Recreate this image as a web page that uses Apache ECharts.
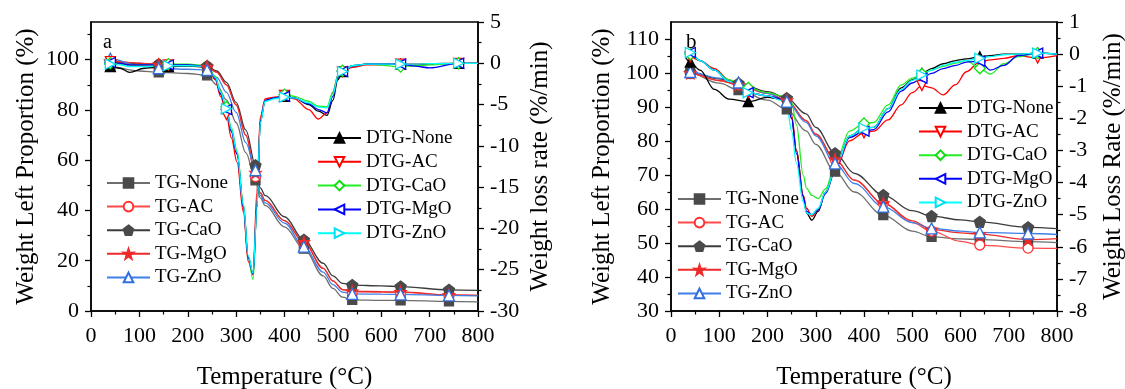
<!DOCTYPE html>
<html>
<head>
<meta charset="utf-8">
<script src="https://cdn.jsdelivr.net/npm/echarts@6/dist/echarts.min.js"></script>
<style>html,body{margin:0;padding:0;background:#fff;}#c{width:1125px;height:389px;}</style>
</head>
<body>
<div id="c"></div>
<script>
// ---------- data: chart a ----------
const tgXa = [30,40,100,140,200,240,260,280,300,320,340,350,360,400,440,480,500,520,540,600,640,740,800];
const tgNoneA = [97,97.2,95.5,95,94.5,93.8,90,84,75,63,52,45,42,33.5,24.8,14,9,5.5,4.4,4.2,4.2,3.8,3.6];
const tgAcA   = [99.5,99.5,98.5,98,97.5,97.2,95,90,82,70,53.5,47,44,36,27.2,17,12,8.5,7.7,7.5,7.4,6.3,6.2];
const tgCaoA  = [99,99.2,98.5,98.2,97.8,97.5,95.5,91,83,72,58,49,46,37.5,28.3,19,14,11,10.3,10,9.7,8.4,8.2];
const tgMgoA  = [99.3,99.5,98.6,98,97.6,97.2,95,90,82,70,55,47,44,36,27.5,17,12,8.5,7.8,7.7,7.6,6.4,6.2];
const tgZnoA  = [100,100.4,97.5,96.6,96.2,95.9,93,87,79,67,56,46,43,35,25.6,15.5,10.5,7.5,6.8,6.7,6.6,6.2,6.0];

const dtgXa = [30,40,60,80,110,160,200,240,257,268,280,290,302,315,325,335,343,350,360,380,400,420,450,470,488,500,510,520,540,570,640,670,700,760,800];
const dtgNoneA = [-0.3,-0.4,-0.6,-1.1,-0.6,-0.4,-0.35,-0.45,-1.8,-3.7,-5.5,-8.2,-11,-17.4,-23.5,-25.5,-17.4,-7,-4.5,-4.2,-4.0,-4.2,-5.0,-5.8,-6.3,-4.5,-2.0,-1.0,-0.4,-0.1,-0.1,-0.15,-0.1,0,0];
const dtgAcA   = [0.2,0.2,0.0,-0.2,-0.2,-0.2,-0.2,-0.35,-2.0,-4.0,-6.2,-9.0,-12,-18,-24,-25.6,-15.5,-6.5,-4.3,-4.1,-3.9,-4.3,-5.6,-6.75,-6.0,-3.5,-1.6,-1.0,-0.5,-0.2,-0.1,-0.1,-0.05,0,0];
const dtgCaoA  = [0,0,-0.1,-0.2,-0.2,-0.1,-0.1,-0.3,-1.6,-3.4,-5.3,-7.8,-10.6,-17,-23.5,-26.2,-17.5,-7.2,-4.6,-4.2,-3.8,-4.0,-4.6,-5.2,-5.25,-3.5,-1.6,-0.9,-0.3,-0.1,-0.4,-0.3,-0.2,0,0];
const dtgMgoA  = [0,0.1,0,-0.2,-0.2,-0.2,-0.2,-0.35,-1.8,-3.7,-5.6,-8.2,-11,-17.4,-23.5,-25.5,-17.4,-7,-4.5,-4.2,-4.0,-4.2,-4.9,-5.6,-6.0,-4.0,-1.8,-1.0,-0.3,-0.1,-0.1,-0.35,-0.55,0,0];
const dtgZnoA  = [-0.2,-0.1,-0.2,-0.4,-0.4,-0.3,-0.3,-0.4,-1.7,-3.5,-5.5,-8,-10.8,-17.2,-23.3,-25.4,-17.6,-7.2,-4.6,-4.3,-4.1,-4.2,-4.8,-5.3,-5.4,-3.8,-1.7,-1.0,-0.3,-0.1,-0.1,-0.1,-0.05,0,0];

// ---------- data: chart b ----------
const tgXb = [30,40,100,140,200,240,280,300,340,380,440,500,540,600,640,740,800];
const tgNoneB = [100.5,100,97,95,92,89.3,83,79,71,65,58.2,53.5,51.8,51.2,51,50.4,50.1];
const tgAcB   = [100,99.8,97.8,96.5,94,92,86,82,74.6,68.5,61.7,56,53.5,50.5,49.4,48.5,48.4];
const tgCaoB  = [100.5,100.2,98.3,97,94.5,92.6,88,84,76.4,70.5,64.1,59.5,57.9,56.8,56.2,54.6,54.2];
const tgMgoB  = [100,100,97.8,96.5,94,92,86,82,74.6,68.5,61.7,56.5,54,53,52.6,51,51.3];
const tgZnoB  = [100.5,100.3,98.5,97.2,94,91.6,85.5,81.5,73.4,67.5,60.7,56,54.3,53.5,53.1,52.8,52.5];

const dtgXb = [30,40,60,90,120,160,200,230,240,250,260,274,281,292,305,320,343,370,400,420,450,477,500,520,540,564,590,612,640,662,690,720,760,800];
const dtgNoneB = [-0.1,-0.25,-0.5,-1.1,-1.4,-1.48,-1.35,-1.4,-1.5,-2.0,-3.0,-4.4,-4.95,-5.17,-4.9,-4.3,-3.45,-2.55,-2.3,-2.28,-1.7,-1.05,-0.8,-0.6,-0.45,-0.3,-0.2,-0.15,-0.08,-0.05,0,0,0.03,0];
const dtgAcB   = [-0.05,-0.08,-0.2,-0.45,-0.8,-1.2,-1.3,-1.4,-1.45,-1.9,-3.0,-4.4,-4.8,-5.05,-4.85,-4.3,-3.5,-2.7,-2.45,-2.4,-2.05,-1.58,-1.2,-0.98,-1.05,-1.27,-0.95,-0.55,-0.24,-0.18,-0.13,-0.05,-0.12,-0.05];
const dtgCaoB  = [0,0,-0.2,-0.5,-0.8,-1.05,-1.2,-1.3,-1.35,-1.5,-2.2,-3.77,-4.18,-4.4,-4.5,-4.2,-3.3,-2.4,-2.16,-2.13,-1.58,-0.96,-0.75,-0.62,-0.5,-0.38,-0.28,-0.2,-0.44,-0.62,-0.3,-0.08,0.03,0];
const dtgMgoB  = [0.05,0.05,-0.2,-0.5,-0.85,-1.2,-1.3,-1.4,-1.45,-2.0,-3.1,-4.45,-4.9,-5.0,-4.85,-4.35,-3.5,-2.6,-2.4,-2.35,-1.8,-1.15,-0.9,-0.75,-0.6,-0.45,-0.35,-0.25,-0.22,-0.5,-0.35,-0.05,0.03,0];
const dtgZnoB  = [0.03,0.05,-0.2,-0.5,-0.85,-1.2,-1.3,-1.45,-1.6,-2.4,-3.4,-4.6,-4.95,-5.0,-4.8,-4.3,-3.45,-2.55,-2.3,-2.28,-1.7,-1.1,-0.82,-0.65,-0.5,-0.35,-0.25,-0.2,-0.13,-0.08,-0.02,0,0.03,0];

const tgMarkX = [40,140,240,340,440,540,640,740];
const dtgMarkX = [40,160,280,400,520,640,760];
const tgNames = ['TG-None','TG-AC','TG-CaO','TG-MgO','TG-ZnO'];
const dtgNames = ['DTG-None','DTG-AC','DTG-CaO','DTG-MgO','DTG-ZnO'];
const xTitle = 'Temperature (°C)';

// ---------- styles ----------
const FONT = '"Liberation Serif","Times New Roman",serif';
const SYM = {
  pentagon: 'path://M50,0 L97.6,34.5 L79.4,90.5 L20.6,90.5 L2.4,34.5 Z',
  star: 'path://M50,0 L61.8,35.4 L97.6,34.5 L69.1,57.3 L79.4,90.5 L50,70 L20.6,90.5 L30.9,57.3 L2.4,34.5 L38.2,35.4 Z',
  down: 'path://M0,0 L100,0 L50,86.6 Z',
  left: 'path://M0,50 L86.6,0 L86.6,100 Z',
  right: 'path://M0,0 L86.6,50 L0,100 Z'
};
const tgStyle = [
  {line:'#6e6e6e', fill:'#4a4a4a', border:'#4a4a4a', symbol:'rect', size:9},
  {line:'#ff4a4a', fill:'#ffffff', border:'#ff3030', symbol:'circle', size:10},
  {line:'#3c3c3c', fill:'#4a4a4a', border:'#4a4a4a', symbol:SYM.pentagon, size:11},
  {line:'#ee2a2a', fill:'#ee2a2a', border:'#ee2a2a', symbol:SYM.star, size:11},
  {line:'#3f7fe8', fill:'#ffffff', border:'#2f6fe0', symbol:'triangle', size:11}
];
const dtgStyle = [
  {line:'#000000', fill:'#000000', border:'#000000', symbol:'triangle', size:10},
  {line:'#ff0000', fill:'#ffffff', border:'#ff0000', symbol:SYM.down, size:10},
  {line:'#22ee22', fill:'#ffffff', border:'#11dd11', symbol:'diamond', size:11},
  {line:'#0000ff', fill:'#ffffff', border:'#0000ff', symbol:SYM.left, size:10},
  {line:'#00ffff', fill:'#ffffff', border:'#00e0f0', symbol:SYM.right, size:10}
];

function mk(xs, ys, marks) {
  return xs.map((x, i) => marks.indexOf(x) >= 0 ? {value:[x, ys[i]]} : {value:[x, ys[i]], symbol:'none'});
}
function series(name, st, xs, ys, marks, xi, yi) {
  return {
    name, type:'line', xAxisIndex:xi, yAxisIndex:yi,
    data: mk(xs, ys, marks), smooth:0.35, smoothMonotone:'x',
    showSymbol:true, showAllSymbol:true, symbol:st.symbol, symbolSize:st.size,
    lineStyle:{color:st.line, width:1.3},
    itemStyle:{color:st.fill, borderColor:st.border, borderWidth:1.3},
    emphasis:{disabled:true}, animation:false
  };
}
const allSeries = [];
const tgA = [tgNoneA,tgAcA,tgCaoA,tgMgoA,tgZnoA];
const dtgA = [dtgNoneA,dtgAcA,dtgCaoA,dtgMgoA,dtgZnoA];
const tgB = [tgNoneB,tgAcB,tgCaoB,tgMgoB,tgZnoB];
const dtgB = [dtgNoneB,dtgAcB,dtgCaoB,dtgMgoB,dtgZnoB];
for (let i=0;i<5;i++) allSeries.push(series(tgNames[i], tgStyle[i], tgXa, tgA[i], tgMarkX, 0, 0));
for (let i=0;i<5;i++) allSeries.push(series(dtgNames[i], dtgStyle[i], dtgXa, dtgA[i], dtgMarkX, 0, 1));
for (let i=0;i<5;i++) allSeries.push(series(tgNames[i], tgStyle[i], tgXb, tgB[i], tgMarkX, 1, 2));
for (let i=0;i<5;i++) allSeries.push(series(dtgNames[i], dtgStyle[i], dtgXb, dtgB[i], dtgMarkX, 1, 3));

const lab = {color:'#000', fontFamily:FONT, fontSize:22};
const nameStyle = {color:'#000', fontFamily:FONT, fontSize:25};
const axLine = {show:true, onZero:false, lineStyle:{color:'#000', width:1.5}};
const tick = {show:true, length:6, lineStyle:{color:'#000', width:1.3}};
const minor = {show:true, splitNumber:2, length:3.5, lineStyle:{color:'#000', width:1.2}};

function xAx(g) {
  return {gridIndex:g, type:'value', min:0, max:800, interval:100,
    axisLine:axLine, axisTick:tick, minorTick:minor, splitLine:{show:false}, minorSplitLine:{show:false},
    axisLabel:Object.assign({margin:14}, lab),
    name:xTitle, nameLocation:'middle', nameGap:54, nameTextStyle:nameStyle};
}
function range(a, b, s) { const r=[]; for (let v=a; v<=b+1e-9; v+=s) r.push(v); return r; }
const legText = {color:'#000', fontFamily:FONT, fontSize:19, lineHeight:20};

const option = {
  backgroundColor:'#fff',
  animation:false,
  grid:[
    {left:91, top:22, width:387, height:289, show:true, borderColor:'#000', borderWidth:1.5, backgroundColor:'transparent', containLabel:false, outerBoundsMode:'none'},
    {left:671, top:22, width:386, height:289, show:true, borderColor:'#000', borderWidth:1.5, backgroundColor:'transparent', containLabel:false, outerBoundsMode:'none'}
  ],
  xAxis:[xAx(0), xAx(1)],
  yAxis:[
    {gridIndex:0, type:'value', position:'left', min:0, max:115, interval:10,
     axisLine:axLine, axisTick:Object.assign({customValues:range(0,100,20)}, tick),
     axisLabel:Object.assign({margin:12, customValues:range(0,100,20)}, lab), splitLine:{show:false},
     name:'Weight Left Proportion (%)', nameLocation:'middle', nameGap:52, nameTextStyle:nameStyle},
    {gridIndex:0, type:'value', position:'right', min:-30, max:5, interval:5,
     axisLine:axLine, axisTick:tick, minorTick:minor, axisLabel:Object.assign({margin:12}, lab), splitLine:{show:false},
     name:'Weight loss rate (%/min)', nameLocation:'middle', nameGap:50, nameTextStyle:nameStyle},
    {gridIndex:1, type:'value', position:'left', min:30, max:115, interval:10,
     axisLine:axLine, axisTick:Object.assign({customValues:range(30,110,10)}, tick),
     axisLabel:Object.assign({margin:12, customValues:range(30,110,10)}, lab), splitLine:{show:false},
     name:'Weight Left Proportion (%)', nameLocation:'middle', nameGap:56, nameTextStyle:nameStyle},
    {gridIndex:1, type:'value', position:'right', min:-8, max:1, interval:1,
     axisLine:axLine, axisTick:tick, minorTick:minor, axisLabel:Object.assign({margin:12}, lab), splitLine:{show:false},
     name:'Weight Loss Rate (%/min)', nameLocation:'middle', nameGap:44, nameTextStyle:nameStyle},
    {gridIndex:0, type:'value', position:'left', min:0, max:115, interval:10,
     axisLine:{show:false}, axisLabel:{show:false}, splitLine:{show:false},
     axisTick:{show:true, length:3.5, customValues:range(10,110,20), lineStyle:{color:'#000', width:1.2}}},
    {gridIndex:1, type:'value', position:'left', min:30, max:115, interval:10,
     axisLine:{show:false}, axisLabel:{show:false}, splitLine:{show:false},
     axisTick:{show:true, length:3.5, customValues:range(35,105,10), lineStyle:{color:'#000', width:1.2}}}
  ],
  legend:[
    {data:tgNames, orient:'vertical', left:106, top:173, padding:0, itemWidth:43, itemHeight:12, itemGap:3.6,
     textStyle:legText, selectedMode:false},
    {data:dtgNames, orient:'vertical', left:317, top:128, padding:0, itemWidth:43, itemHeight:12, itemGap:3.8,
     textStyle:legText, selectedMode:false},
    {data:tgNames, orient:'vertical', left:677, top:189, padding:0, itemWidth:43, itemHeight:12, itemGap:3.6,
     textStyle:legText, selectedMode:false},
    {data:dtgNames, orient:'vertical', left:918, top:98, padding:0, itemWidth:43, itemHeight:12, itemGap:3.6,
     textStyle:legText, selectedMode:false}
  ],
  graphic:[
    {type:'text', left:103, top:33, style:{text:'a', fill:'#000', font:'20px ' + FONT}},
    {type:'text', left:686, top:32, style:{text:'b', fill:'#000', font:'21px ' + FONT}}
  ],
  series: allSeries
};
const chart = echarts.init(document.getElementById('c'), null, {renderer:'canvas'});
chart.setOption(option);
</script>
</body>
</html>
